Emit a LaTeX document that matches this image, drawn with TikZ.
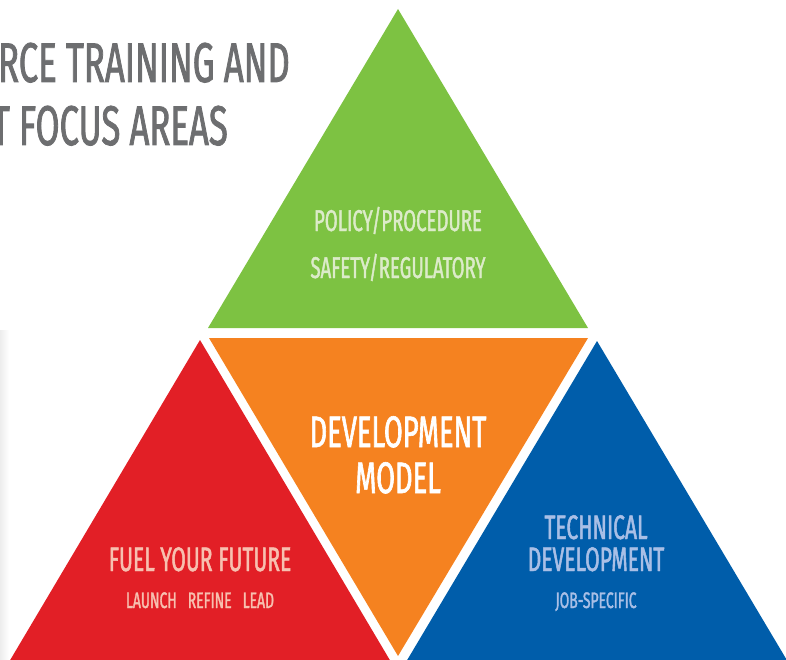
\documentclass[tikz,border=0pt]{standalone}
\usepackage{fontspec}
\newfontfamily\condfont[FakeStretch=0.62, FakeBold=1.4]{Fira Sans}
\definecolor{pyrgreen}{HTML}{7DC242}
\definecolor{pyrorange}{HTML}{F58220}
\definecolor{pyrred}{HTML}{E21F26}
\definecolor{pyrblue}{HTML}{005DAA}
\definecolor{txtgreen}{HTML}{DCEBC9}
\definecolor{txtred}{HTML}{F7C0B0}
\definecolor{txtblue}{HTML}{A9BFE6}
\definecolor{titlegray}{HTML}{6D6E70}
\tikzset{
	lbl/.style={anchor=base, inner sep=0pt, font=\condfont},
}
\begin{document}
\begin{tikzpicture}[x=1pt, y=-1pt]
	\useasboundingbox (0,0) rectangle (786,660);
	\clip (0,0) rectangle (786,660);
	\shade [left color=black!7, right color=white] (0,330) rectangle (9,660);
	% the four triangles
	\fill [pyrgreen]  (398,9)   -- (208,328) -- (588,328) -- cycle;
	\fill [pyrorange] (209,338) -- (588,338) -- (398,656) -- cycle;
	\fill [pyrred]    (200,340) -- (9,662)   -- (391,662) -- cycle;
	\fill [pyrblue]   (597,341) -- (406,662) -- (788,662) -- cycle;
	% heading, cut at the left
	\node [lbl, anchor=base east, text=titlegray, font=\condfont\fontsize{56}{56}\selectfont] (title1) at (290,82)  {RCE TRAINING AND};
	\node [lbl, anchor=base east, text=titlegray, font=\condfont\fontsize{56}{56}\selectfont] (title2) at (228,145) {T FOCUS AREAS};
	% labels
	\node [lbl, text=txtgreen, font=\condfont\fontsize{30}{30}\selectfont] (policy) at (398,231) {POLICY/PROCEDURE};
	\node [lbl, text=txtgreen, font=\condfont\fontsize{30}{30}\selectfont] (safety) at (398,278) {SAFETY/REGULATORY};
	\node [lbl, text=white, font=\condfont\fontsize{44}{44}\selectfont] (devel) at (398,447) {DEVELOPMENT};
	\node [lbl, text=white, font=\condfont\fontsize{44}{44}\selectfont] (model) at (398,493) {MODEL};
	\node [lbl, text=txtblue, font=\condfont\fontsize{34}{34}\selectfont] (tech) at (596,539) {TECHNICAL};
	\node [lbl, text=txtblue, font=\condfont\fontsize{34}{34}\selectfont] (techdev) at (596,571) {DEVELOPMENT};
	\node [lbl, text=txtblue, font=\condfont\fontsize{22.5}{22.5}\selectfont] (job) at (596,608) {JOB-SPECIFIC};
	\node [lbl, text=txtred, font=\condfont\fontsize{34}{34}\selectfont] (fuel) at (200,571) {FUEL YOUR FUTURE};
	\node [lbl, text=txtred, font=\condfont\fontsize{22.5}{22.5}\selectfont] (launch) at (200,608) {LAUNCH\hspace{11pt}REFINE\hspace{11pt}LEAD};
\end{tikzpicture}
\end{document}
